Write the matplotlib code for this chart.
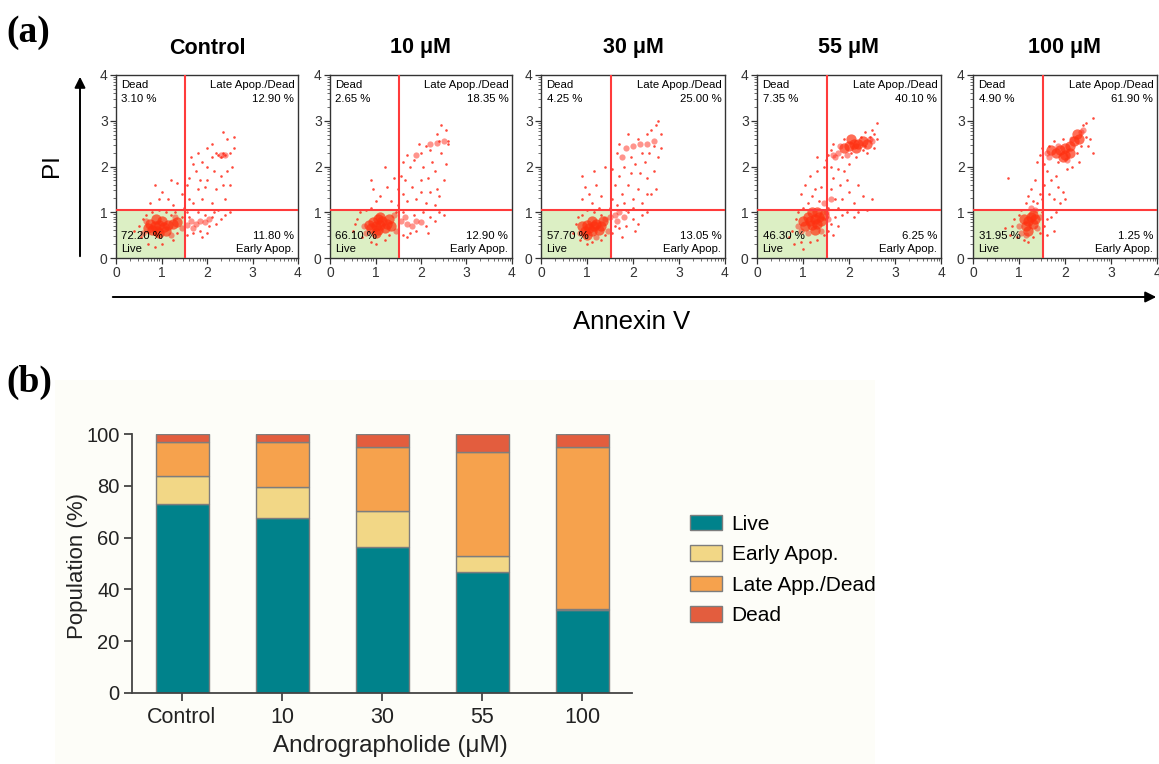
import numpy as np
import matplotlib
matplotlib.use("Agg")
import matplotlib.pyplot as plt
from matplotlib.patches import Rectangle, FancyArrowPatch

plt.rcParams['font.family'] = ['Liberation Sans', 'DejaVu Sans']

W, H = 1159, 764

# ---------------- panel (a) data ----------------
titles = ["Control", "10 μM", "30 μM", "55 μM", "100 μM"]
pct_dead = ["3.10 %", "2.65 %", "4.25 %", "7.35 %", "4.90 %"]
pct_late = ["12.90 %", "18.35 %", "25.00 %", "40.10 %", "61.90 %"]
pct_live = ["72.20 %", "66.10 %", "57.70 %", "46.30 %", "31.95 %"]
pct_early = ["11.80 %", "12.90 %", "13.05 %", "6.25 %", "1.25 %"]
gate_x = 1.52
gate_y = 1.05

ctrl_core = [(0.85,0.70),(0.95,0.72),(1.05,0.68),(0.9,0.6),(1.0,0.8),(0.8,0.62),(1.15,0.72),
             (0.75,0.75),(0.95,0.55),(1.1,0.6),(0.7,0.65),(1.25,0.75),(1.35,0.78),(0.88,0.85)]
ctrl_mid = [(1.55,0.72),(1.65,0.8),(1.75,0.75),(1.85,0.8),(1.95,0.78),(1.7,0.65),(2.05,0.85),
            (1.45,0.65),(0.6,0.55),(0.65,0.8),(1.2,0.5),(1.3,0.9),(2.3,2.25),(2.4,2.25)]
ctrl_dots = [(0.55,0.45),(0.6,0.85),(0.7,0.3),(0.5,0.7),(0.65,0.95),(0.8,1.0),(0.95,1.05),(1.1,1.0),
             (1.2,0.95),(1.3,1.0),(0.85,0.25),(1.0,0.3),(1.25,0.4),(1.35,0.55),(1.45,0.9),(0.4,0.6),
             (0.75,1.2),(0.95,1.3),(1.0,1.45),(0.85,1.6),(1.15,1.3),(1.25,1.15),
             (1.55,0.5),(1.6,0.9),(1.7,0.55),(1.85,0.6),(1.95,0.95),(2.05,0.7),(2.1,0.9),(2.2,0.75),
             (2.3,0.85),(2.4,0.95),(1.9,0.45),(2.15,1.0),(1.55,1.0),(1.8,1.0),(2.5,1.0),(2.0,0.55),
             (1.5,1.1),(1.6,1.3),(1.55,1.6),(1.7,1.2),(1.8,1.5),(1.75,1.9),(1.9,1.3),(2.0,1.7),
             (2.1,1.2),(2.2,1.5),(2.3,1.8),(2.4,1.3),(2.5,1.6),(2.55,2.0),(2.6,2.4),(2.6,2.65),
             (2.45,2.6),(2.35,2.75),(2.2,2.3),(2.3,2.2),(2.4,2.25),(2.25,2.25),(2.35,2.3),(2.1,2.2),
             (2.0,2.4),(1.9,2.1),(1.8,2.3),(1.7,2.05),(1.65,2.2),(2.0,2.0),(2.15,1.9),(2.45,1.9),
             (1.95,1.55),(2.25,1.05),(1.6,1.75),(2.5,2.3),(2.1,2.5),(1.85,1.7),(2.35,1.6),(1.45,1.4),
             (1.35,1.65),(1.2,1.7)]

m10_core = [(1.0,0.7),(1.1,0.72),(1.05,0.62),(0.95,0.78),(1.15,0.8),(1.2,0.65),(0.9,0.65),(1.1,0.9),
            (1.25,0.75),(1.0,0.55),(1.3,0.85),(1.05,0.85),(0.85,0.72),(1.35,0.7)]
m10_mid = [(1.55,0.8),(1.7,0.75),(1.8,0.7),(1.9,0.8),(2.0,0.78),(1.65,0.9),(1.45,0.6),(0.75,0.7),
           (0.8,0.55),(1.4,0.95),(2.2,2.5),(2.35,2.52),(2.5,2.55),(1.9,2.25)]
m10_dots = [(0.5,0.6),(0.6,0.85),(0.7,0.45),(0.65,1.0),(0.8,1.05),(0.9,0.35),(1.0,0.3),(1.2,0.4),
            (1.3,0.5),(1.45,1.0),(0.55,0.75),(0.9,1.1),(1.0,1.25),(0.95,1.5),(1.1,1.35),(0.9,1.7),
            (1.2,2.0),(1.25,1.55),(1.35,1.25),
            (1.6,0.5),(1.75,0.55),(1.9,0.6),(2.1,0.7),(2.2,0.9),(2.3,0.8),(2.4,1.0),(1.6,1.0),
            (1.85,0.95),(2.05,1.0),(1.7,0.45),(2.5,0.95),(2.15,0.55),
            (1.5,1.15),(1.6,1.4),(1.55,1.8),(1.7,1.25),(1.8,1.55),(1.75,2.0),(1.9,1.3),(2.0,1.7),
            (2.1,1.2),(2.2,1.45),(2.3,1.9),(2.4,1.35),(2.5,1.7),(2.55,2.05),(2.6,2.5),(2.55,2.8),
            (2.45,2.9),(2.35,2.7),(2.2,2.35),(2.1,2.45),(2.0,2.3),(1.85,2.15),(1.7,2.25),(1.6,2.1),
            (2.05,2.0),(2.25,2.1),(2.45,2.3),(2.0,1.45),(2.3,1.15),(1.65,1.7),(2.4,2.55),(2.6,2.55),
            (1.95,2.5),(2.15,1.75),(2.35,1.5),(1.5,1.5),(1.4,1.75)]

m30_core = [(1.05,0.65),(1.15,0.7),(1.1,0.6),(1.0,0.72),(1.2,0.75),(1.25,0.62),(0.95,0.6),(1.1,0.8),
            (1.3,0.7),(1.0,0.5),(1.35,0.8),(0.9,0.7)]
m30_mid = [(1.4,0.85),(1.5,0.9),(1.6,0.95),(1.7,1.0),(1.65,0.8),(1.8,0.9),(0.85,0.55),(1.2,0.45),
           (1.45,0.6),(2.0,2.45),(2.15,2.5),(2.3,2.5),(2.45,2.55),(1.85,2.4),(1.75,2.2)]
m30_dots = [(0.7,0.55),(0.75,0.75),(0.85,0.4),(0.8,0.9),(1.0,0.3),(1.1,0.35),(1.3,0.4),(1.4,0.5),
            (0.9,0.95),(1.0,1.05),(1.15,1.0),(1.25,1.1),(1.3,0.95),(0.9,1.3),(0.9,1.8),(0.95,1.55),
            (1.05,1.4),(1.2,1.6),(1.15,1.9),(1.3,1.35),(1.4,2.0),(1.1,1.2),
            (1.55,0.55),(1.7,0.65),(1.85,0.7),(2.0,0.85),(2.1,0.75),(2.2,0.95),(1.6,0.7),(1.9,1.0),
            (2.3,1.0),(1.75,0.45),(2.05,0.6),
            (1.5,1.1),(1.55,1.3),(1.6,1.6),(1.65,1.15),(1.75,1.4),(1.7,1.8),(1.8,1.2),(1.9,1.6),
            (2.0,1.3),(2.1,1.5),(2.2,1.2),(2.3,1.75),(2.4,1.4),(2.5,1.5),(2.45,1.9),(2.55,2.2),
            (2.6,2.7),(2.5,2.9),(2.4,2.8),(2.55,3.0),(2.3,2.7),(2.2,2.3),(2.1,2.6),(1.95,2.2),
            (1.8,2.0),(1.65,2.3),(1.7,2.5),(1.9,2.7),(2.05,2.05),(2.25,2.1),(2.35,2.3),(1.85,1.05),
            (2.0,1.1),(2.15,1.85),(1.55,1.95),(2.45,2.45),(2.6,2.4),(2.3,1.4),(1.95,1.85)]

m55_core = [(1.15,0.8),(1.25,0.85),(1.2,0.72),(1.1,0.9),(1.3,0.75),(1.35,0.9),(1.05,0.7),(1.25,0.62),
            (1.4,0.8),(1.2,1.0),(1.45,0.95),(1.0,0.8),(1.3,1.0),
            (2.0,2.45),(2.1,2.5),(2.2,2.5),(2.3,2.55),(2.15,2.4),(1.9,2.4),(2.05,2.6),(2.4,2.5)]
m55_mid = [(1.5,1.0),(1.55,0.85),(1.45,1.2),(1.6,1.3),(0.95,0.6),(1.1,0.55),(0.9,0.7),(1.75,2.3),
           (1.65,2.25),(1.8,2.45),(1.95,2.25),(2.45,2.6),(2.5,2.55),(1.7,2.2),(1.4,0.6)]
m55_dots = [(0.7,0.45),(0.75,0.6),(0.8,0.3),(0.85,0.85),(0.95,0.35),(1.0,0.2),(1.15,0.35),(1.3,0.4),
            (1.45,0.5),(0.9,1.0),(1.0,1.1),(1.1,1.2),(1.2,1.35),(0.95,1.4),(1.05,1.6),(1.15,1.8),
            (1.25,1.5),(1.3,1.9),(1.35,1.25),(1.4,1.55),(1.45,2.0),(1.3,2.2),(1.5,2.15),
            (1.55,0.6),(1.6,0.75),(1.7,0.9),(1.75,0.7),(1.85,0.95),(1.95,1.0),(2.1,0.9),(2.2,1.0),
            (1.65,0.5),
            (1.55,1.1),(1.6,1.5),(1.65,1.75),(1.7,1.3),(1.75,1.1),(1.8,1.6),(1.6,2.0),(1.85,1.3),
            (1.9,1.9),(2.0,1.45),(2.1,1.2),(2.2,1.6),(2.3,1.35),(2.4,1.05),(2.5,1.3),(2.55,2.7),
            (2.6,2.95),(2.5,2.8),(2.35,2.75),(2.25,2.65),(2.6,2.6),(2.55,2.4),(2.4,2.3),(2.3,2.35),
            (2.05,2.3),(1.85,2.2),(1.6,2.35),(1.55,2.25),(1.9,2.6),(2.0,2.05),(1.75,1.95),(1.95,1.7),
            (2.15,2.2),(2.45,2.65),(2.35,2.45),(1.65,2.5)]

m100_core = [(1.2,0.8),(1.25,0.9),(1.3,0.75),(1.15,0.7),(1.3,0.95),(1.2,0.6),(1.35,0.85),(1.1,0.85),
             (1.9,2.35),(2.0,2.4),(2.1,2.45),(2.2,2.55),(1.8,2.3),(2.0,2.25),(2.25,2.7),(2.3,2.6),
             (1.95,2.2),(2.1,2.3),(1.7,2.35)]
m100_mid = [(1.0,0.7),(1.05,0.55),(1.4,0.65),(1.35,1.05),(1.25,1.1),(1.45,0.9),(1.15,0.5),(1.6,2.3),
            (1.65,2.2),(2.35,2.75),(2.4,2.8),(2.15,2.6),(1.85,2.45),(2.05,2.15)]
m100_dots = [(0.8,0.5),(0.85,0.7),(0.9,0.85),(0.95,0.45),(1.0,0.95),(1.05,1.05),(1.1,0.4),(1.2,0.35),
             (1.3,0.45),(1.45,0.55),(0.7,0.65),(1.15,1.2),(1.2,1.35),(1.25,1.5),(1.3,1.25),(1.35,1.7),
             (0.75,1.75),(1.4,1.2),(1.45,1.4),(1.5,1.0),
             (1.55,0.7),(1.6,0.85),(1.7,0.9),(1.8,1.0),(1.6,0.5),(1.75,0.6),
             (1.5,1.3),(1.55,1.6),(1.6,1.9),(1.65,1.4),(1.7,1.7),(1.75,1.3),(1.8,1.8),(1.85,1.55),
             (1.9,1.2),(1.95,1.45),(2.0,1.3),(2.05,1.95),(1.55,2.05),(1.45,2.25),(1.5,2.4),(1.75,2.55),
             (2.4,2.9),(2.45,2.95),(2.6,3.05),(2.55,2.6),(2.5,2.45),(2.35,2.45),(2.6,2.3),(2.3,2.1),
             (1.85,2.1),(2.15,2.0),(2.45,2.65),(1.95,2.6),(2.25,2.3),(1.65,2.45),(1.4,2.1)]

cores = [ctrl_core, m10_core, m30_core, m55_core, m100_core]
mids = [ctrl_mid, m10_mid, m30_mid, m55_mid, m100_mid]
dots = [ctrl_dots, m10_dots, m30_dots, m55_dots, m100_dots]

# ---------------- panel (b) data ----------------
groups = ["Control", "10", "30", "55", "100"]
live = [73.0, 67.5, 56.3, 46.9, 31.9]
early = [10.9, 11.9, 14.1, 6.1, 0.7]
late = [13.0, 17.5, 24.7, 40.1, 62.3]
dead = [3.1, 3.1, 4.9, 6.9, 5.1]
series_names = ["Live", "Early Apop.", "Late App./Dead", "Dead"]
series_colors = ["#00828b", "#f2d786", "#f6a24d", "#e35d3e"]

# ---------------- figure ----------------
fig = plt.figure(figsize=(W / 100, H / 100), dpi=100)

# cream background of panel (b)
fig.add_artist(Rectangle((55 / W, 0), (875 - 55) / W, 1 - 380 / H, transform=fig.transFigure,
                         facecolor="#fdfdf8", edgecolor="none", zorder=0))

panel_px = [(116, 298), (330, 512), (541, 725), (757, 941), (973, 1157)]
top_px, bot_px = 75, 258
red = "#ff2a1a"
minor = [n + np.log10(k) for n in range(4) for k in range(2, 10)]

for i, (l, r) in enumerate(panel_px):
    ax = fig.add_axes([l / W, 1 - bot_px / H, (r - l) / W, (bot_px - top_px) / H])
    ax.set_xlim(0, 4)
    ax.set_ylim(0, 4)
    ax.add_patch(Rectangle((0, 0), gate_x, gate_y, facecolor="#dcefc4", edgecolor="none", zorder=0))
    d = np.array(dots[i]); m = np.array(mids[i]); c = np.array(cores[i])
    ax.scatter(d[:, 0], d[:, 1], s=3.5, color=red, alpha=0.85, linewidths=0, zorder=2)
    ax.scatter(m[:, 0], m[:, 1], s=20, color=red, alpha=0.5, linewidths=0, zorder=2)
    ax.scatter(c[:, 0], c[:, 1], s=55, color="#ff3010", alpha=0.7, linewidths=0, zorder=2)
    ax.axvline(gate_x, color="#ff3b3b", lw=1.5, zorder=3)
    ax.axhline(gate_y, color="#ff3b3b", lw=1.5, zorder=3)
    ax.set_xticks(range(5))
    ax.set_yticks(range(5))
    ax.set_xticks(minor, minor=True)
    ax.set_yticks(minor, minor=True)
    ax.tick_params(which="major", direction="out", length=4, width=0.9, labelsize=10,
                   colors="#333333", pad=2)
    ax.tick_params(which="minor", direction="out", length=2, width=0.6, colors="#555555")
    for s in ax.spines.values():
        s.set_linewidth(1.0)
        s.set_color("#333333")
    fs = 8.2
    ax.text(0.03, 0.97, "Dead\n" + pct_dead[i], transform=ax.transAxes, ha="left", va="top",
            fontsize=fs, linespacing=1.4, zorder=4)
    ax.text(0.98, 0.97, "Late Apop./Dead\n" + pct_late[i], transform=ax.transAxes, ha="right",
            va="top", fontsize=fs, linespacing=1.4, multialignment="right", zorder=4)
    ax.text(0.03, 0.02, pct_live[i] + "\nLive", transform=ax.transAxes, ha="left", va="bottom",
            fontsize=fs, linespacing=1.4, zorder=4)
    ax.text(0.98, 0.02, pct_early[i] + "\nEarly Apop.", transform=ax.transAxes, ha="right",
            va="bottom", fontsize=fs, linespacing=1.4, multialignment="right", zorder=4)
    fig.text(((l + r) / 2) / W, 1 - 48 / H, titles[i], ha="center", va="center",
             fontsize=15.5, fontweight="bold")

# axis arrows of panel (a)
fig.add_artist(FancyArrowPatch((80 / W, 1 - 259 / H), (80 / W, 1 - 74 / H), transform=fig.transFigure,
                               arrowstyle="-|>", mutation_scale=16, lw=1.4, color="black"))
fig.add_artist(FancyArrowPatch((110 / W, 1 - 297 / H), (1159 / W, 1 - 297 / H), transform=fig.transFigure,
                               arrowstyle="-|>", mutation_scale=16, lw=1.4, color="black"))
fig.text(52 / W, 1 - 166 / H, "PI", rotation=90, ha="center", va="center", fontsize=17.5)
fig.text(632 / W, 1 - 322 / H, "Annexin V", ha="center", va="center", fontsize=18.5)

# panel labels
fig.text(6 / W, 1 - 32 / H, "(a)", ha="left", va="center", fontsize=27, fontweight="bold",
         family="Liberation Serif")
fig.text(6 / W, 1 - 382 / H, "(b)", ha="left", va="center", fontsize=27, fontweight="bold",
         family="Liberation Serif")

# ---------------- panel (b) bar chart ----------------
axb = fig.add_axes([132 / W, 1 - 693 / H, 500 / W, (693 - 434) / H])
axb.set_facecolor("none")
x = np.arange(len(groups))
bottom = np.zeros(len(groups))
handles = []
for vals, name, col in zip([live, early, late, dead], series_names, series_colors):
    b = axb.bar(x, vals, width=0.53, bottom=bottom, color=col, edgecolor="#7d7d7d", linewidth=1.0,
                label=name, zorder=2)
    handles.append(b)
    bottom = bottom + np.array(vals)
axb.set_xlim(-0.5, 4.5)
axb.set_ylim(0, 100)
axb.set_yticks([0, 20, 40, 60, 80, 100])
axb.set_xticks(x)
axb.set_xticklabels(groups)
axb.spines["top"].set_visible(False)
axb.spines["right"].set_visible(False)
for s in ["left", "bottom"]:
    axb.spines[s].set_linewidth(1.3)
    axb.spines[s].set_color("#444444")
axb.tick_params(direction="out", length=6, width=1.3, colors="#444444",
                labelcolor="#222222", pad=4)
axb.tick_params(axis="x", labelsize=15.5)
axb.tick_params(axis="y", labelsize=14.5, pad=3)
fig.text(78 / W, 1 - 566 / H, "Population (%)", rotation=90, ha="center", va="center",
         fontsize=16, color="#222222")
fig.text(390 / W, 1 - 746 / H, "Andrographolide (μM)", ha="center", va="center",
         fontsize=17.5, color="#222222")

fig.legend(handles=handles, labels=series_names, loc="center left",
           bbox_to_anchor=(690 / W, 1 - 570 / H), frameon=False, fontsize=15,
           handlelength=1.55, handleheight=0.78, handletextpad=0.45, labelspacing=0.55,
           borderpad=0, borderaxespad=0)

fig.savefig("out.png", dpi=100)
